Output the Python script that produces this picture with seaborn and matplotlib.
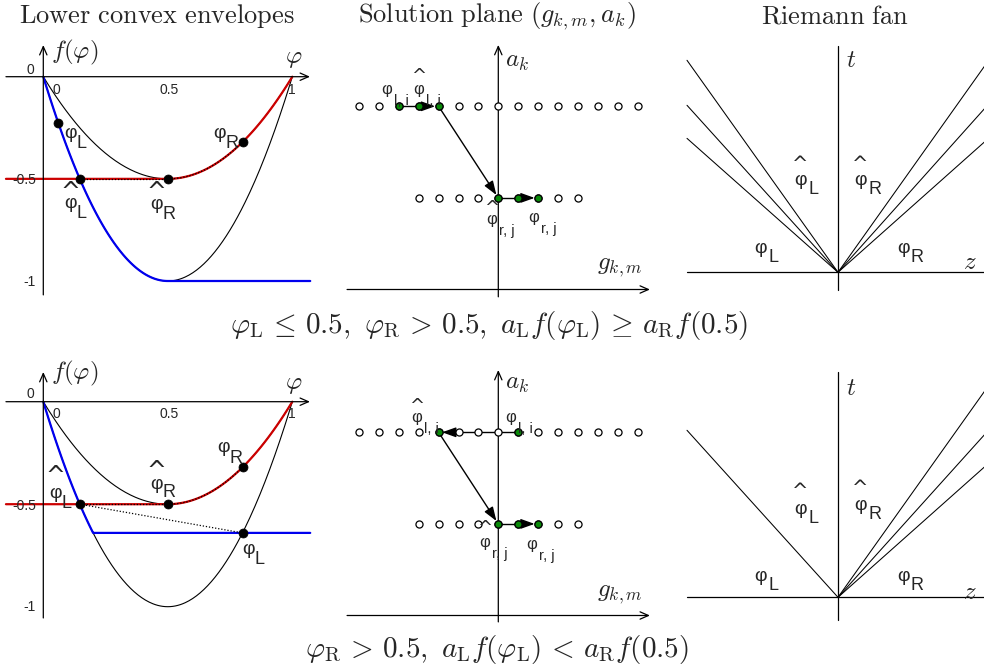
import numpy as np
import pandas as pd
import matplotlib
matplotlib.use("Agg")
import matplotlib.pyplot as plt
import seaborn as sns

sns.set_theme(style="white")
plt.rcParams["font.family"] = ["Liberation Sans", "DejaVu Sans"]
plt.rcParams["mathtext.fontset"] = "cm"

W, H = 984, 671

# ---------------- data ----------------
# flux curves a*f(phi), f(phi) = -phi(1-phi)
a_L = 4.0          # lower black curve, minimum -1 at phi = 0.5
a_R = 2.0          # upper black curve, minimum -0.5 at phi = 0.5
phi_grid = np.linspace(0.0, 1.0, 201)

# top-left panel
env1_pts_phi = [0.06, 0.146, 0.5, 0.8]
env1_pts_f = [-0.226, -0.5, -0.5, -0.32]
env1_blue_kink_phi, env1_blue_level = 0.5, -1.0
env1_red_level = -0.5
# bottom-left panel
env2_pts_phi = [0.146, 0.5, 0.8, 0.8]
env2_pts_f = [-0.5, -0.5, -0.32, -0.64]
env2_blue_kink_phi, env2_blue_level = 0.2, -0.64
env2_red_level = -0.5
hatL_phi, hatR_phi, phiR_val, phiL2_val = 0.146, 0.5, 0.8, 0.8

# solution plane (g index, a level)
sp_top_row = list(range(-7, 8))
sp_bot_row = list(range(-4, 5))
sp_top_level, sp_bot_level = 2, 1
sp1_green_top = [-5, -4, -3]
sp1_green_bot = [0, 1, 2]
sp1_lines = [(-5, 2, -4, 2), (0, 1, 1, 1)]
sp1_arrows = [(-4, 2, -3, 2), (-3, 2, 0, 1), (1, 1, 2, 1)]
sp2_green_top = [-3, 1]
sp2_green_bot = [0, 1, 2]
sp2_lines = [(1, 2, -2, 2), (0, 1, 1, 1)]
sp2_arrows = [(-2, 2, -3, 2), (-3, 2, 0, 1), (1, 1, 2, 1)]

# Riemann fans: left lines given by t at z = -1, right lines by slope dt/dz
fan1_left_t = [1.404, 1.106, 0.887]
fan1_right_slope = [1.407, 1.117, 0.89]
fan2_left_t = [1.106]
fan2_right_slope = [1.406, 1.11, 0.89]

# ---------------- figure ----------------
fig = plt.figure(figsize=(9.84, 6.71), dpi=100)


def panel(box, ox, oy, sx, sy):
    l, t, r, b = box
    ax = fig.add_axes([l / W, 1 - b / H, (r - l) / W, (b - t) / H])
    ax.set_xlim((l - ox) / sx, (r - ox) / sx)
    ax.set_ylim((oy - b) / sy, (oy - t) / sy)
    ax.set_axis_off()
    return ax


def draw_lines(ax, segs, **kw):
    rows = []
    for i, (xs, ys) in enumerate(segs):
        for x, y in zip(xs, ys):
            rows.append((i, x, y))
    df = pd.DataFrame(rows, columns=["seg", "x", "y"])
    sns.lineplot(data=df, x="x", y="y", units="seg", estimator=None,
                 sort=False, ax=ax, legend=False, **kw)


def axis_arrow(ax, x0, y0, x1, y1):
    ax.annotate("", xy=(x1, y1), xytext=(x0, y0),
                arrowprops=dict(arrowstyle="->,head_length=0.5,head_width=0.22",
                                color="black", lw=0.9, shrinkA=0, shrinkB=0,
                                mutation_scale=12),
                annotation_clip=False)


def arrow(ax, x0, y0, x1, y1):
    ax.annotate("", xy=(x1, y1), xytext=(x0, y0),
                arrowprops=dict(arrowstyle="-|>,head_length=0.7,head_width=0.25",
                                color="black", lw=1.0, shrinkA=0, shrinkB=2.5,
                                mutation_scale=12),
                zorder=3)


def ftext(px, py, s, **kw):
    return fig.text(px / W, 1 - py / H, s, **kw)


def phi_label(px, py, sub, hat_up=None, size=14, subsize=13, hatsize=17,
              drop=6, dxf=0.62):
    """px, py: left / bottom of the phi glyph (pixels); hat_up: height of
    the hat centre above py (pixels), None for no hat."""
    em = size * 100 / 72
    ems = subsize * 100 / 72
    ftext(px, py, "φ", fontsize=size, ha="left", va="bottom")
    ftext(px + dxf * em, py + drop + 0.21 * ems, sub, fontsize=subsize,
          ha="left", va="bottom")
    if hat_up is not None:
        hem = hatsize * 100 / 72
        ftext(px + 0.32 * em, py - hat_up + 0.6 * hem, "^",
              family="DejaVu Sans", fontsize=hatsize, ha="center",
              va="baseline")


RED = "#cc0000"
BLUE = "#0000ee"
GREEN = "#0a8a0a"

# ---------- left panels: lower convex envelopes ----------
def envelope_panel(ax, blue_kink, blue_level, red_level, pts_phi, pts_f,
                   dotted_extra):
    lower = -a_L * phi_grid * (1 - phi_grid)
    upper = -a_R * phi_grid * (1 - phi_grid)
    draw_lines(ax, [(phi_grid, lower), (phi_grid, upper)], color="black",
               lw=0.8, zorder=2)
    m = phi_grid <= blue_kink
    bx = list(phi_grid[m]) + [blue_kink, 1.072]
    by = list(lower[m]) + [blue_level, blue_level]
    draw_lines(ax, [(bx, by)], color=BLUE, lw=1.6, zorder=3)
    m2 = phi_grid >= hatR_phi
    rx = [-0.15, hatR_phi] + list(phi_grid[m2])
    ry = [red_level, red_level] + list(upper[m2])
    draw_lines(ax, [(rx, ry)], color=RED, lw=1.6, zorder=3)
    m3 = (phi_grid >= hatR_phi) & (phi_grid <= phiR_val)
    dots = [([hatL_phi, hatR_phi], [red_level, red_level]),
            (phi_grid[m3], upper[m3])] + dotted_extra
    draw_lines(ax, dots, color="black", lw=0.9, linestyle=(0, (1, 1.5)),
               zorder=4)
    sns.scatterplot(x=pts_phi, y=pts_f, s=42, color="black", edgecolor="black",
                    ax=ax, zorder=6, legend=False)


ax1 = panel((0, 28, 320, 300), 43.3, 76.7, 249, 204.3)
envelope_panel(ax1, env1_blue_kink_phi, env1_blue_level, env1_red_level,
               env1_pts_phi, env1_pts_f, [])
axis_arrow(ax1, -0.15, 0, 1.071, 0)
axis_arrow(ax1, 0, -1.068, 0, 0.155)

ax4 = panel((0, 350, 320, 630), 43.3, 401.7, 249, 205)
envelope_panel(ax4, env2_blue_kink_phi, env2_blue_level, env2_red_level,
               env2_pts_phi, env2_pts_f,
               [([hatL_phi, phiL2_val], [env2_red_level, env2_blue_level])])
axis_arrow(ax4, -0.15, 0, 1.071, 0)
axis_arrow(ax4, 0, -1.055, 0, 0.145)

# tick labels
tk = dict(fontsize=10, va="center", zorder=1)
for oy in (0, 324):
    ftext(30, 70 + oy, "0", ha="center", **tk)
    ftext(56.5, 90 + oy, "0", ha="center", **tk)
    ftext(169.5, 90 + oy, "0.5", ha="center", **tk)
    ftext(291.5, 90 + oy, "1", ha="center", **tk)
ftext(36, 180, "-0.5", ha="right", **tk)
ftext(36, 282, "-1", ha="right", **tk)
ftext(36, 506, "-0.5", ha="right", **tk)
ftext(36, 607, "-1", ha="right", **tk)

# axis labels
for (fx, fy), (px, py) in [((75, 52), (294, 58)), ((75, 373), (294, 384))]:
    ftext(fx, fy, r"$f(\varphi)$", fontsize=18, ha="center", va="center")
    ftext(px, py, r"$\varphi$", fontsize=18, ha="center", va="center")

# point labels (left panels)
phi_label(64, 142, "L")
phi_label(64, 212, "L", hat_up=27)
phi_label(150, 213, "R", hat_up=28)
phi_label(213, 142, "R")
phi_label(49, 502, "L", hat_up=33)
phi_label(150, 493, "R", hat_up=29, drop=4)
phi_label(217, 456, "R", drop=7)
phi_label(242, 558, "L")

# ---------- middle panels: solution plane ----------
def solution_panel(ax, green_top, green_bot, lines, arrows):
    draw_lines(ax, [([x0, x1], [y0, y1]) for x0, y0, x1, y1 in lines],
               color="black", lw=1.0, zorder=2)
    for a in arrows:
        arrow(ax, *a)
    sns.scatterplot(x=sp_top_row, y=[sp_top_level] * len(sp_top_row), s=26,
                    color="white", edgecolor="black", linewidth=0.9, ax=ax,
                    zorder=5, legend=False)
    sns.scatterplot(x=sp_bot_row, y=[sp_bot_level] * len(sp_bot_row), s=26,
                    color="white", edgecolor="black", linewidth=0.9, ax=ax,
                    zorder=5, legend=False)
    gx = green_top + green_bot
    gy = [sp_top_level] * len(green_top) + [sp_bot_level] * len(green_bot)
    sns.scatterplot(x=gx, y=gy, s=26, color=GREEN, edgecolor="black",
                    linewidth=0.9, ax=ax, zorder=6, legend=False)


ax2 = panel((330, 28, 665, 300), 498.3, 289.5, 19.9, 91.6)
solution_panel(ax2, sp1_green_top, sp1_green_bot, sp1_lines, sp1_arrows)
axis_arrow(ax2, -7.6, 0, 7.62, 0)
axis_arrow(ax2, 0, -0.08, 0, 2.67)

ax5 = panel((330, 350, 665, 630), 498.3, 615.5, 19.9, 91.6)
solution_panel(ax5, sp2_green_top, sp2_green_bot, sp2_lines, sp2_arrows)
axis_arrow(ax5, -7.6, 0, 7.62, 0)
axis_arrow(ax5, 0, -0.07, 0, 2.68)

for (ax_x, ax_y), (gx_, gy_) in [((505, 61), (597, 267)), ((505, 383), (597, 594))]:
    ftext(ax_x, ax_y, r"$a_k$", fontsize=18, ha="left", va="center")
    ftext(gx_, gy_, r"$g_{k,m}$", fontsize=18, ha="left", va="center")

sp_kw = dict(size=12, subsize=10.5, hatsize=13, drop=8, dxf=0.8)
phi_label(381, 97, "l, i", **sp_kw)
phi_label(413, 97, "l, i", hat_up=27, **sp_kw)
phi_label(486, 227, "r, j", hat_up=25, **sp_kw)
phi_label(528, 225, "r, j", **sp_kw)
phi_label(411, 425, "l, i", hat_up=25, **sp_kw)
phi_label(505, 425, "l, i", **sp_kw)
phi_label(479, 550, "r, j", hat_up=28, **sp_kw)
phi_label(526, 552, "r, j", **sp_kw)

# ---------- right panels: Riemann fans ----------
def fan_panel(ax, left_t, right_slope, t_bottom, t_top):
    segs = [([-1.0, 0.0], [t, 0.0]) for t in left_t]
    segs += [([0.0, 1.3], [0.0, 1.3 * s]) for s in right_slope]
    draw_lines(ax, segs, color="black", lw=0.75, zorder=2)
    draw_lines(ax, [([-1.0, 1.2], [0.0, 0.0]), ([0.0, 0.0], [t_bottom, t_top])],
               color="black", lw=0.9, zorder=2)


ax3 = panel((670, 28, 984, 300), 838, 272.3, 151, 151)
fan_panel(ax3, fan1_left_t, fan1_right_slope, -0.12, 1.5)
ax6 = panel((670, 350, 984, 630), 838, 597.3, 151, 151)
fan_panel(ax6, fan2_left_t, fan2_right_slope, -0.15, 1.49)

for (tx, ty), (zx, zy) in [((851, 60), (970, 262)), ((851, 388), (970, 592))]:
    ftext(tx, ty, r"$t$", fontsize=18, ha="center", va="center")
    ftext(zx, zy, r"$z$", fontsize=18, ha="center", va="center")

fan_kw = dict(size=14, subsize=13, hatsize=14, drop=5, dxf=0.72)
phi_label(754, 257, "L", **fan_kw)
phi_label(794, 189, "L", hat_up=31, **fan_kw)
phi_label(854, 189, "R", hat_up=31, **fan_kw)
phi_label(897, 257, "R", **fan_kw)
phi_label(754, 585, "L", **fan_kw)
phi_label(794, 518, "L", hat_up=33, **fan_kw)
phi_label(854, 514, "R", hat_up=32, **fan_kw)
phi_label(897, 585, "R", **fan_kw)

# ---------- titles and captions ----------
ftext(157, 16, r"$\mathrm{Lower\ convex\ envelopes}$", fontsize=19,
      ha="center", va="center")
ftext(497, 16, r"$\mathrm{Solution\ plane}\ (g_{k,m}, a_k)$", fontsize=19,
      ha="center", va="center")
ftext(835, 16, r"$\mathrm{Riemann\ fan}$", fontsize=19, ha="center", va="center")
ftext(489, 325,
      r"$\varphi_{\rm L}\,\leq\,0.5,\ \varphi_{\rm R}\,>\,0.5,\ a_{\rm L} f(\varphi_{\rm L})\,\geq\,a_{\rm R} f(0.5)$",
      fontsize=21, ha="center", va="center")
ftext(497, 650,
      r"$\varphi_{\rm R}\,>\,0.5,\ a_{\rm L} f(\varphi_{\rm L})\,<\,a_{\rm R} f(0.5)$",
      fontsize=21, ha="center", va="center")

fig.savefig("out.png", dpi=100, facecolor="white")
